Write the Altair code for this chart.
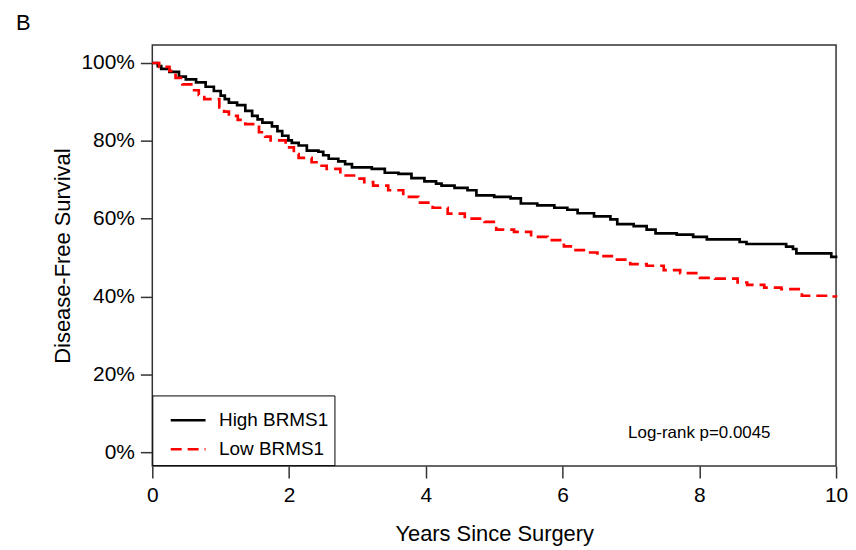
import altair as alt
import pandas as pd

# High BRMS1 (black, solid) Kaplan-Meier estimate (years, % surviving)
high_t = [0, 0.08, 0.13, 0.25, 0.39, 0.49, 0.64, 0.78, 0.9, 1.0, 1.06, 1.12, 1.24, 1.36, 1.46,
          1.54, 1.61, 1.75, 1.83, 1.9, 1.99, 2.04, 2.14, 2.26, 2.43, 2.5, 2.58, 2.72, 2.82,
          2.92, 3.21, 3.4, 3.6, 3.79, 3.98, 4.15, 4.23, 4.42, 4.61, 4.74, 5.0, 5.24, 5.39,
          5.63, 5.88, 6.07, 6.22, 6.46, 6.7, 6.8, 7.04, 7.23, 7.36, 7.67, 7.91, 8.11, 8.59,
          8.69, 9.27, 9.37, 9.42, 9.93, 10]
high_s = [100, 99.2, 98.5, 97.7, 96.5, 95.8, 95.0, 93.9, 92.8, 91.6, 90.7, 89.8, 89.2, 87.7,
          86.4, 85.5, 84.7, 83.7, 82.5, 81.3, 80.1, 79.5, 78.8, 77.5, 77.2, 76.3, 75.4, 74.7,
          74.0, 73.2, 72.8, 71.8, 71.5, 70.4, 69.6, 69.0, 68.5, 67.9, 67.3, 66.0, 65.6, 65.2,
          63.9, 63.4, 62.8, 62.3, 61.4, 60.6, 59.8, 58.6, 58.1, 57.2, 56.2, 55.9, 55.3, 54.7,
          54.0, 53.5, 52.8, 52.2, 51.1, 50.2, 49.8]

# Low BRMS1 (red, dashed)
low_t = [0, 0.1, 0.25, 0.34, 0.44, 0.59, 0.68, 0.76, 0.98, 1.05, 1.12, 1.25, 1.36, 1.56, 1.65,
         1.73, 1.95, 2.07, 2.14, 2.33, 2.45, 2.55, 2.75, 2.99, 3.1, 3.23, 3.45, 3.67, 3.89,
         4.1, 4.32, 4.57, 4.86, 5.03, 5.29, 5.54, 5.78, 6.02, 6.19, 6.35, 6.51, 6.75, 6.99,
         7.23, 7.48, 7.72, 8.01, 8.23, 8.56, 8.7, 8.95, 9.2, 9.5, 9.9, 10]
low_s = [100, 99.0, 98.0, 96.2, 94.5, 93.0, 91.8, 90.7, 88.6, 87.5, 86.4, 85.4, 84.3, 82.2,
         81.1, 80.1, 78.3, 76.6, 75.6, 74.5, 73.6, 72.8, 71.1, 70.3, 69.4, 68.5, 67.3, 65.6,
         64.1, 62.8, 61.3, 60.0, 59.2, 57.2, 56.6, 55.3, 54.5, 52.9, 51.9, 51.3, 50.4, 49.5,
         48.3, 47.9, 46.8, 46.0, 44.8, 44.6, 43.6, 43.0, 42.3, 41.9, 40.2, 40.0, 39.8]

groups = ["High BRMS1", "Low BRMS1"]
colors = ["black", "red"]
x_ticks = [0, 2, 4, 6, 8, 10]
y_ticks = [0, 0.2, 0.4, 0.6, 0.8, 1.0]
annotation = "Log-rank p=0.0045"

rows = [{"t": t, "s": s / 100, "group": groups[0]} for t, s in zip(high_t, high_s)]
rows += [{"t": t, "s": s / 100, "group": groups[1]} for t, s in zip(low_t, low_s)]
df = pd.DataFrame(rows)

FONT = "Liberation Sans"

lines = alt.Chart(df).mark_line(interpolate="step-after", strokeWidth=2.7).encode(
    x=alt.X("t:Q", scale=alt.Scale(domain=[0, 10], nice=False, zero=False),
            axis=alt.Axis(values=x_ticks, title="Years Since Surgery", format="d",
                          tickSize=12, labelPadding=7, titlePadding=18, grid=False,
                          domain=False, labelFlush=False)),
    y=alt.Y("s:Q", scale=alt.Scale(domain=[-0.0358, 1.046], nice=False, zero=False),
            axis=alt.Axis(values=y_ticks, format=".0%", title="Disease-Free Survival",
                          tickSize=12, labelPadding=6, titlePadding=6, grid=False,
                          domain=False)),
    color=alt.Color("group:N", scale=alt.Scale(domain=groups, range=colors),
                    legend=alt.Legend(title=None, orient="none", legendX=0, legendY=352,
                                      strokeColor="black", fillColor="white",
                                      padding=6, symbolOffset=11, symbolType="stroke",
                                      symbolSize=1225, symbolStrokeWidth=2.6,
                                      labelFontSize=19, labelFont=FONT, labelColor="black",
                                      rowPadding=-11, labelOffset=12, cornerRadius=0,
                                      labelExpr="datum.label + '\u00a0\u00a0\u00a0\u00a0\u00a0\u00a0\u00a0'")),
    strokeDash=alt.StrokeDash("group:N", scale=alt.Scale(domain=groups, range=[[1, 0], [11, 6]]),
                              legend=None),
)

ann = alt.Chart(pd.DataFrame({"t": [8.0], "s": [0.049], "label": [annotation]})).mark_text(
    font=FONT, fontSize=17, color="black", align="center", baseline="middle"
).encode(x="t:Q", y="s:Q", text="label:N")

chart = alt.layer(lines, ann).properties(
    width=687, height=423,
    background="white",
    autosize=alt.AutoSizeParams(type="none"),
    padding={"left": 145, "top": 36, "right": 12, "bottom": 80},
    title=alt.Title("B", anchor="start", frame="group", dx=-137, offset=10, fontSize=22,
                    font=FONT, fontWeight="normal", color="black"),
).configure_view(stroke="#333", strokeWidth=1.5).configure_axis(
    labelFont=FONT, titleFont=FONT, labelFontSize=21, titleFontSize=22,
    labelColor="black", titleColor="black", titleFontWeight="normal",
    tickColor="#333", tickWidth=1.5
)

chart.save("out.html", embed_options={"renderer": "svg", "actions": False})
